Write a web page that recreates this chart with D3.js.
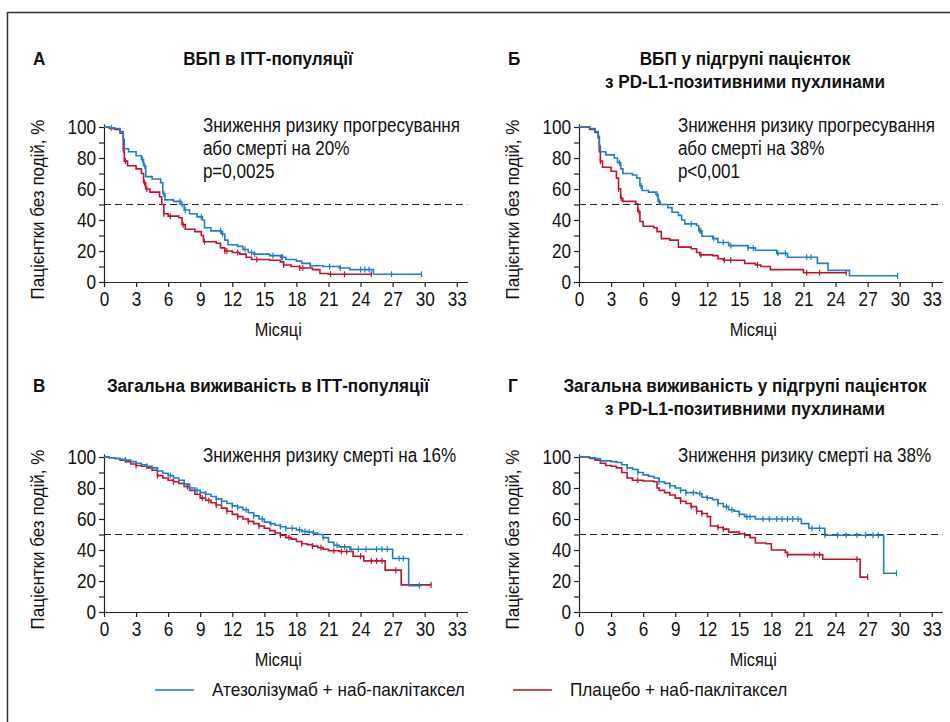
<!DOCTYPE html>
<html>
<head>
<meta charset="utf-8">
<script src="https://cdn.jsdelivr.net/npm/d3@7"></script>
<style>
  body { margin: 0; background: #fff; }
  text { font-family: "Liberation Sans", Arial, sans-serif; fill: #111; }
</style>
</head>
<body>
<div id="chart"></div>
<script>
// step points [month, % without event]
const aAtezo = [[0,100],[0.5,99.5],[1,99],[1.5,97],[1.8,92],[1.9,86],[2.3,84],[3,81.5],[3.5,79],[3.7,75],[3.9,68],[4.5,66.5],[5.3,64],[5.5,57],[5.7,53],[6.5,52],[7.2,50],[7.5,46.5],[8,44],[8.7,42],[9.2,40],[9.4,35],[10,33],[11,31],[11.3,27],[11.6,24],[12.5,23],[13,21],[13.5,19],[14,18],[15.5,17],[16.5,16],[17,14.5],[18,13.5],[18.5,12],[19.3,10.5],[20.5,10],[22,9],[23,8],[25.2,5],[29.7,5]]
const aPlacebo = [[0,100],[0.5,99],[1,98.5],[1.5,96],[1.8,85],[1.9,78],[2.2,75],[3,73],[3.5,70],[3.7,64],[3.9,60],[4.3,58],[5.2,55],[5.4,50],[5.6,44],[6,42.5],[7,41.5],[7.3,37],[7.6,34],[8.5,32.5],[9.1,30],[9.3,26],[10.5,25],[10.9,22],[11.3,20],[12,19],[12.7,18],[13.3,16],[13.8,14.5],[15.5,14],[16.5,13],[16.8,11],[17.5,10],[18.3,9],[19.5,8],[20.2,5.5],[21,5],[25,5]]
const bAtezo = [[0,100],[1,99],[1.5,97],[1.8,94],[1.9,88],[2,84],[2.5,82],[3.3,80],[3.6,77],[3.9,73],[4.1,70],[5,69],[5.4,67],[5.7,62],[5.9,59],[6.5,58],[7.2,56.5],[7.4,52],[7.6,50],[8.3,48],[8.7,45],[9.3,43],[9.6,40],[9.9,37.5],[11,36.5],[11.2,33],[11.5,29.5],[12.5,28],[13,25.5],[14,23.5],[15.8,22],[16.5,20.5],[18.5,18.5],[19.5,16],[22.3,12],[23.3,7.5],[25.3,4],[29.8,4]]
const bPlacebo = [[0,100],[1,98.5],[1.5,96.5],[1.8,93],[1.9,84],[2,78],[2.2,74],[3,71.5],[3.5,67],[3.7,60],[3.9,54],[4.1,52],[5.3,50.5],[5.5,45.5],[5.7,39],[6,36],[7,35],[7.3,32.5],[7.7,28],[8.5,27],[9.3,22.5],[10.5,21.5],[11,19],[11.3,17.5],[12.5,17],[13,15],[13.5,14],[15.5,12],[16.5,11],[17,10],[17.9,8],[21,6],[25,6]]
const cAtezo = [[0,100],[0.5,99.5],[1,99],[1.5,98.5],[2,98],[2.5,97],[3,96],[3.5,95],[4,94],[4.5,93],[5,91],[5.5,89.5],[6,88],[6.5,86.5],[7,85],[7.5,82.5],[8,80],[8.5,78.5],[9,77],[9.5,76],[10,74.5],[10.5,73],[11,71.5],[11.5,70],[12,68.5],[12.5,67.5],[13,66],[13.5,64],[14,62],[14.5,60],[15,58],[15.5,57],[16,56],[16.5,55],[17,54],[18,53],[18.5,52],[19,51.5],[19.5,51],[20,50],[20.5,48],[21,45],[21.5,43],[22,42],[23,40.5],[27,34.5],[28.5,17],[29.7,17]]
const cPlacebo = [[0,100],[0.5,99.5],[1,99],[1.5,98],[2,97],[2.5,95.5],[3,94.5],[3.5,94],[4,93],[4.5,91.5],[5,88],[5.5,86.5],[6,85],[6.5,84],[7,83],[7.5,81],[8,78.5],[8.5,76],[9,73.5],[9.5,72],[10,70.5],[10.5,69],[11,67],[11.5,65],[12,63],[12.5,61.5],[13,60],[13.5,58.5],[14,57],[14.5,55.5],[15,54],[15.5,52.5],[16,51],[16.5,49.5],[17,48],[17.5,47],[18,45.5],[18.5,44],[19,43.5],[19.5,42.5],[20,41.5],[20.5,40.5],[21,39.5],[22,39],[23.3,36],[24.3,33],[26.3,27],[27.8,17.5],[30.6,17.5]]
const dAtezo = [[0,100],[1,99.5],[1.5,99],[2,97.5],[3,97],[3.5,96.5],[4,95],[4.5,93],[5,92],[5.5,90],[6,88.5],[6.5,87.5],[7,86.5],[7.5,84],[8,83],[8.5,81.5],[9,80],[9.5,78.5],[10,77],[11,76.5],[11.5,74],[12,73.5],[12.5,72.5],[13,70],[13.5,68],[14,66],[14.5,65],[15,63],[15.5,61.5],[16.5,60],[20.8,57],[21.5,54],[23,49.5],[28.5,25],[29.7,25]]
const dPlacebo = [[0,100],[1,99],[1.5,98],[2,96],[2.5,94.5],[3,94],[3.5,93],[4,90],[4.5,86.5],[5,85],[6,84.5],[7,84],[7.3,80],[7.5,78.5],[8,77],[8.5,75.5],[9,73.5],[9.5,71.5],[10,70],[10.5,68],[11,65],[11.5,63.5],[12,61.5],[12.3,55.5],[13,54.5],[13.5,53.5],[14,51.5],[15,50.5],[15.5,49.5],[16,48],[16.5,44.5],[17.5,44],[18,40],[19.3,38.5],[19.5,37],[22.8,34],[26.3,22.5],[27,22.5]]

// censoring times (months)
const aAtezoCens = [0.7,3.6,3.8,5.6,7.1,7.3,7.6,9.1,10.9,11.1,13.2,13.8,14.1,15.8,16.6,16.7,19.3,21.1,22.1,24.0,24.4,24.8,26.9,29.7]
const aPlaceboCens = [1.85,2.0,3.8,4.0,5.6,6.2,7.4,9.4,11.3,11.5,12.5,14.3,16.8,18.3,18.6,21.2,22.5,25]
const bAtezoCens = [3.8,5.8,7.3,7.5,10.5,11.3,11.4,12.6,13.5,14.2,15.8,16.3,18.6,19.3,21.3,21.7,29.8]
const bPlaceboCens = [2.0,3.7,3.95,5.6,11.4,13.6,14.2,16.7,21.3,22.5,25]
const cAtezoCens = [2,4,5,6.2,7.5,8,8.7,9.5,10.5,11,12,12.5,13.3,14,14.8,15.6,16.5,17,17.6,18.3,18.8,19.2,19.6,20.5,21.8,22.5,23.1,23.8,24.5,25.5,26,26.5,27.6,28,29.5]
const cPlaceboCens = [3,5,6.5,7.8,9.2,9.8,10.5,11.5,12.5,13.5,14.5,16.5,17.3,18.5,19.5,20.3,21.5,22.2,22.7,24,25,25.5,26,27.3,30.6]
const dAtezoCens = [4.5,5.5,7.5,8.5,9.5,10,10.7,11.3,12,13,13.8,14.3,15,15.7,16,17.2,17.8,18.5,19,19.5,20,20.5,21.8,22.5,23,24.2,25,26,26.8,27.5,28,29.7]
const dPlaceboCens = [5.5,9.5,10.5,11,11.5,13,13.5,15.5,19.5,22,22.5,26,27]

const xTicks = d3.range(0, 34, 3)
const yTicks = d3.range(0, 101, 10)
const seriesNames = ["Атезолізумаб + наб-паклітаксел", "Плацебо + наб-паклітаксел"]
const colors = ["#1f7fc6", "#c3112f"]
const legendColors = ["#4a9ed6", "#d2495b"]

const panels = [
  { letter: "А", title: ["ВБП в ІТТ-популяції"], note: ["Зниження ризику прогресування", "або смерті на 20%", "p=0,0025"],
    x: 104, y: 127, data: [aAtezo, aPlacebo], cens: [aAtezoCens, aPlaceboCens] },
  { letter: "Б", title: ["ВБП у підгрупі пацієнток", "з PD-L1-позитивними пухлинами"], note: ["Зниження ризику прогресування", "або смерті на 38%", "p<0,001"],
    x: 579, y: 127, data: [bAtezo, bPlacebo], cens: [bAtezoCens, bPlaceboCens] },
  { letter: "В", title: ["Загальна виживаність в ІТТ-популяції"], note: ["Зниження ризику смерті на 16%"],
    x: 104, y: 457, data: [cAtezo, cPlacebo], cens: [cAtezoCens, cPlaceboCens] },
  { letter: "Г", title: ["Загальна виживаність у підгрупі пацієнток", "з PD-L1-позитивними пухлинами"], note: ["Зниження ризику смерті на 38%"],
    x: 579, y: 457, data: [dAtezo, dPlacebo], cens: [dAtezoCens, dPlaceboCens] }
]

const W = 950, H = 722
const pw = 34 * 10.69, ph = 155

const svg = d3.select("#chart").append("svg").attr("width", W).attr("height", H)

// condensed-looking text: bigger size squeezed horizontally
const ctext = (parent, x, y, str, size, sx, rot) =>
  parent.append("text")
    .attr("transform", `translate(${x},${y})${rot ? " rotate(" + rot + ")" : ""} scale(${sx},1)`)
    .attr("font-size", size).text(str)

// frame
svg.append("path").attr("d", "M950,12.5H7.5V722").attr("fill", "none").attr("stroke", "#333").attr("stroke-width", 1.5)

const x = d3.scaleLinear().domain([0, 34]).range([0, pw])
const y = d3.scaleLinear().domain([0, 102]).range([ph * 1.02, 0])

const line = d3.line().x(d => x(d[0])).y(d => y(d[1])).curve(d3.curveStepAfter)
const survAt = (pts, t) => { let s = pts[0][1]; pts.forEach(p => { if (p[0] <= t) s = p[1] }); return s }

panels.forEach((p, i) => {
  const g = svg.append("g").attr("transform", `translate(${p.x},${p.y - ph * 0.02})`)
  const cx = p.x - 104 + 268 + (i % 2 ? 2 : 0)
  const titleY = p.y - 62 - (i >= 2 ? 3 : 0)

  ctext(svg, p.x - 71, titleY, p.letter, 19, 0.9).attr("font-weight", "bold")
  p.title.forEach((t, k) => {
    ctext(svg, cx, titleY + k * 23, t, 19, 0.9).attr("text-anchor", "middle").attr("font-weight", "bold")
  })

  // axes
  g.append("g").attr("transform", `translate(0,${y(0)})`)
    .call(d3.axisBottom(x).tickValues(xTicks).tickSize(5).tickSizeOuter(0).tickPadding(5))
    .call(a => a.selectAll("text").attr("font-size", 19.5).attr("font-family", "Liberation Sans")
      .attr("fill", "#111").attr("transform", "scale(0.88,1)"))
  g.append("g")
    .call(d3.axisLeft(y).tickValues(yTicks).tickSize(5).tickSizeOuter(0).tickPadding(4)
      .tickFormat(d => d % 20 === 0 ? d : ""))
    .call(a => a.selectAll("text").attr("font-size", 19.5).attr("font-family", "Liberation Sans")
      .attr("fill", "#111").attr("transform", "scale(0.88,1)"))
  g.selectAll(".domain, .tick line").attr("stroke", "#222").attr("stroke-width", 1.2)

  ctext(g, x(16.3), y(0) + 54, "Місяці", 19, 0.86).attr("text-anchor", "middle")
  ctext(g, -60, y(50) + 5, "Пацієнтки без подій, %", 19, 0.895, -90).attr("text-anchor", "middle")

  // median line
  g.append("line").attr("x1", 0).attr("x2", pw).attr("y1", y(50)).attr("y2", y(50))
    .attr("stroke", "#222").attr("stroke-width", 1.2).attr("stroke-dasharray", "7,4")

  p.note.forEach((t, k) => {
    ctext(g, x(9.25), y(100) + 5 + k * 23, t, 19.5, 0.875)
  })

  // curves, placebo first so atezo sits on top
  ;[1, 0].forEach(s => {
    g.append("path").datum(p.data[s]).attr("d", line).attr("fill", "none")
      .attr("stroke", colors[s]).attr("stroke-width", 1.6)
    g.selectAll(null).data(p.cens[s]).enter().append("line")
      .attr("x1", d => x(d)).attr("x2", d => x(d))
      .attr("y1", d => y(survAt(p.data[s], d)) - 3).attr("y2", d => y(survAt(p.data[s], d)) + 3)
      .attr("stroke", colors[s]).attr("stroke-width", 1.2)
  })
})

// legend
const leg = svg.append("g").attr("transform", "translate(0,690)")
const legX = [155, 513]
seriesNames.forEach((n, i) => {
  leg.append("line").attr("x1", legX[i]).attr("x2", legX[i] + 39).attr("stroke", legendColors[i]).attr("stroke-width", 2)
  ctext(leg, legX[i] + 57, 6, n, 18, 0.955)
})
</script>
</body>
</html>
